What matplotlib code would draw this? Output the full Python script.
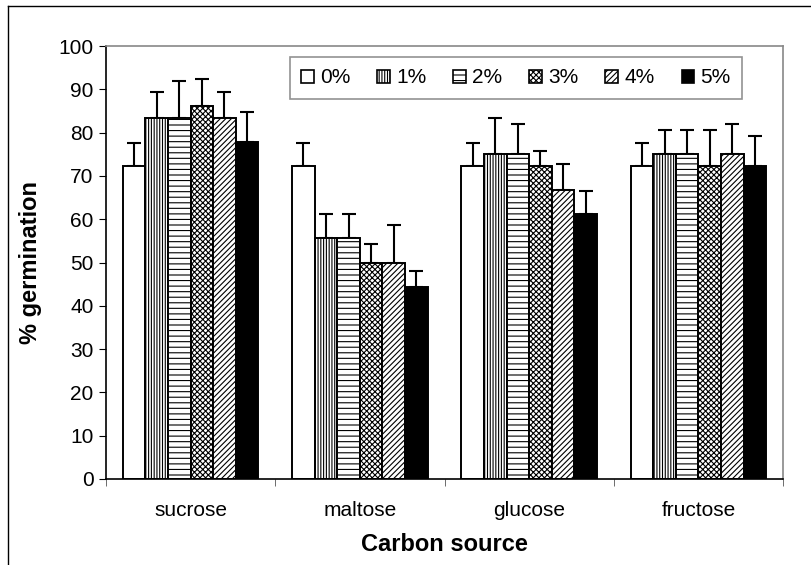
import numpy as np
import matplotlib
matplotlib.use("Agg")
import matplotlib.pyplot as plt
from matplotlib.lines import Line2D

plt.rcParams['font.family'] = ['Liberation Sans', 'DejaVu Sans']
plt.rcParams['hatch.linewidth'] = 0.8

sources = ['sucrose', 'maltose', 'glucose', 'fructose']
levels = ['0%', '1%', '2%', '3%', '4%', '5%']

# % germination per sugar level (rows) for each carbon source (columns)
means = [
    [72.2, 72.2, 72.2, 72.2],
    [83.3, 55.6, 75.0, 75.0],
    [83.3, 55.6, 75.0, 75.0],
    [86.1, 50.0, 72.2, 72.2],
    [83.3, 50.0, 66.7, 75.0],
    [77.8, 44.4, 61.1, 72.2],
]
errors = [
    [5.5, 5.5, 5.5, 5.5],
    [6.0, 5.5, 8.3, 5.5],
    [8.7, 5.5, 7.0, 5.5],
    [6.3, 4.2, 3.6, 8.3],
    [6.0, 8.7, 6.0, 6.9],
    [6.9, 3.7, 5.5, 6.9],
]

faces = ['white', 'white', 'white', 'white', 'white', 'black']
hatches = [None, '||||||', '---', 'xxxxxx', '//////', None]

fig = plt.figure(figsize=(8.11, 5.65), dpi=100)
ax = fig.add_axes([106 / 811, 1 - 479 / 565, (783 - 106) / 811, (479 - 46) / 565])

x = np.arange(len(sources))
w = 0.8 / len(levels)
for i, lev in enumerate(levels):
    pos = x - 0.4 + w * (i + 0.5)
    ax.bar(pos, means[i], width=w, color=faces[i], edgecolor='black',
           hatch=hatches[i], linewidth=1.4, label=lev, zorder=2)
    ax.errorbar(pos, means[i], yerr=[np.zeros(len(sources)), errors[i]],
                fmt='none', ecolor='black', elinewidth=1.5, capsize=5.3,
                capthick=1.5, zorder=1)

ax.set_xlim(-0.5, len(sources) - 0.5)
ax.set_ylim(0, 100)
ax.set_yticks(range(0, 101, 10))
ax.set_xticks(x)
ax.set_xticklabels(sources)
ax.set_xticks(np.arange(-0.5, len(sources)), minor=True)
ax.tick_params(axis='x', which='major', length=0, pad=16, labelsize=15)
ax.tick_params(axis='x', which='minor', length=5, color='#555555')
ax.tick_params(axis='y', length=5, labelsize=15, pad=4)

for s in ['top', 'right']:
    ax.spines[s].set_color('#888888')
for s in ['left', 'bottom']:
    ax.spines[s].set_color('black')
for s in ax.spines.values():
    s.set_linewidth(1.2)

ax.set_xlabel('Carbon source', fontsize=17, fontweight='bold', labelpad=9)
ax.set_ylabel('% germination', fontsize=17, fontweight='bold', labelpad=12)

leg = ax.legend(ncol=6, loc='upper right', bbox_to_anchor=(742 / 811, 1 - 57 / 565),
                bbox_transform=fig.transFigure, fontsize=15, frameon=True,
                fancybox=False, edgecolor='#777777', handlelength=0.6,
                handleheight=0.6, handletextpad=0.3, columnspacing=1.3,
                borderpad=0.55, borderaxespad=0)
leg.get_frame().set_linewidth(1.2)
for h in leg.legend_handles:
    h.set_linewidth(1.2)

# outer chart frame
fig.add_artist(Line2D([8 / 811, 8 / 811], [0, 1 - 6 / 565], transform=fig.transFigure,
                      color='black', linewidth=1.0))
fig.add_artist(Line2D([8 / 811, 1], [1 - 6 / 565, 1 - 6 / 565], transform=fig.transFigure,
                      color='black', linewidth=1.0))

fig.savefig('out.png', dpi=100)
